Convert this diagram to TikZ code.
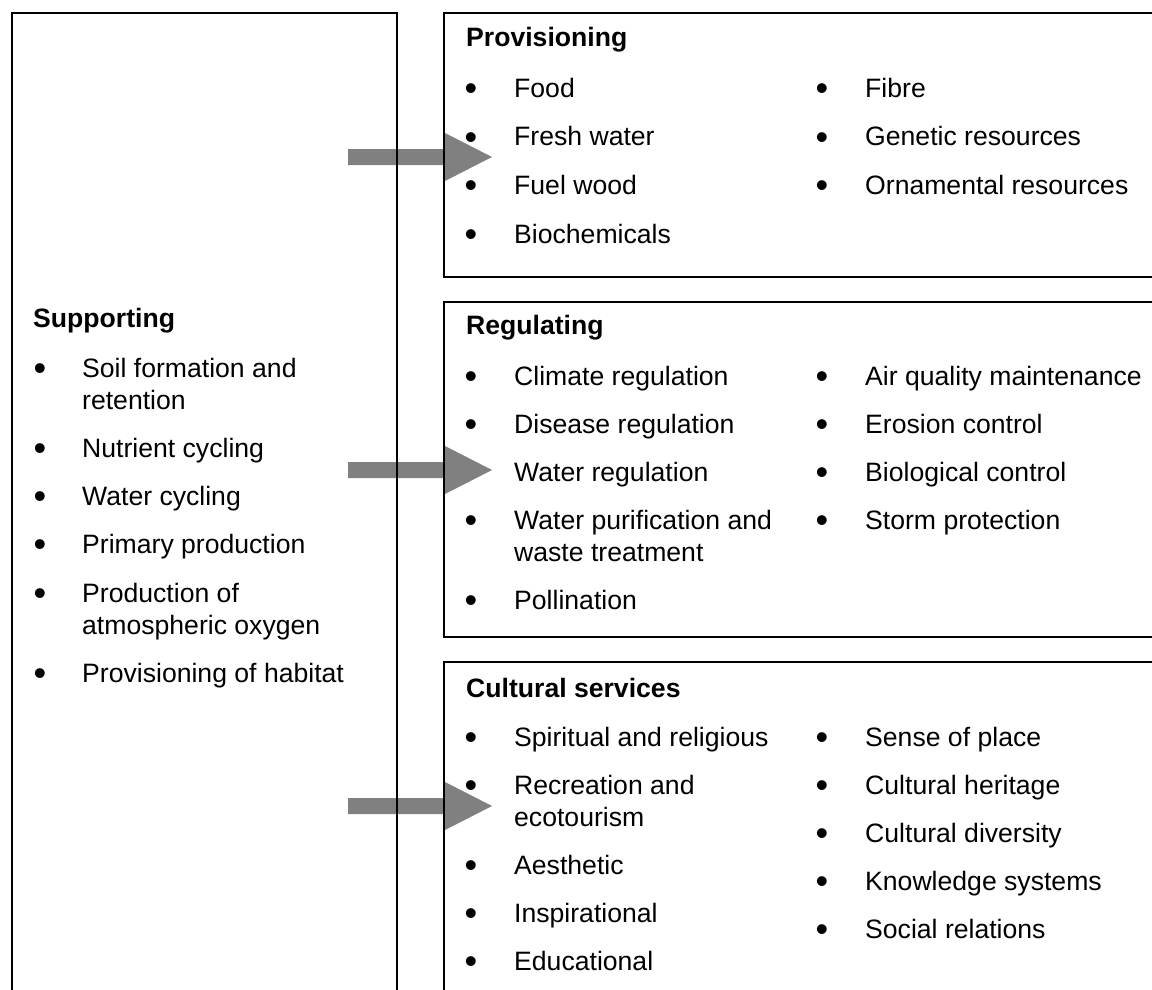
\documentclass[tikz,border=0pt]{standalone}
\usepackage{fontspec}
\setmainfont{Liberation Sans}
\definecolor{arrowgray}{HTML}{808080}
\tikzset{
  txt/.style={anchor=base west, inner sep=0pt, font=\fontsize{26.6}{32}\selectfont},
  hdr/.style={txt, font=\fontsize{26.6}{32}\selectfont\bfseries},
  bul/.style={anchor=base, inner sep=0pt, yshift=-3pt, font=\fontsize{36}{36}\selectfont},
  boxline/.style={line width=1.6pt},
  bigarrow/.style={fill=arrowgray}
}
\begin{document}
\begin{tikzpicture}[x=1pt, y=-1pt]
  \useasboundingbox (0,0) rectangle (1152,990);

  % Block arrows from Supporting to the three boxes
  \foreach \y [count=\i] in {157,470,806} {
    \coordinate (arrs\i) at (348,\y);
    \coordinate (arrt\i) at (492,\y);
    \fill[bigarrow] (arrs\i) ++(0,-8) -- ++(97,0) -- ++(0,-16) -- (arrt\i)
      -- ++(-47,24) -- ++(0,-16) -- ++(-97,0) -- cycle;
  }

  % Boxes (open at the page edges)
  \draw[boxline] (12,990) -- (12,13) -- (397,13) -- (397,990); % Supporting
  \draw[boxline] (1152,13) -- (444,13) -- (444,277) -- (1152,277); % Provisioning
  \draw[boxline] (1152,302) -- (444,302) -- (444,637) -- (1152,637); % Regulating
  \draw[boxline] (1152,662) -- (444,662) -- (444,990); % Cultural services

  % Supporting
  \node[hdr] (suphead) at (33,327) {Supporting};
  \foreach \y in {377,457,505,553,602,682}
    \node[bul] (supb\y) at (40,\y) {•};
  \foreach \y/\t in {377/Soil formation and, 409/retention, 457/Nutrient cycling,
                     505/Water cycling, 553/Primary production, 602/Production of,
                     634/atmospheric oxygen, 682/Provisioning of habitat}
    \node[txt] (supt\y) at (82,\y) {\t};

  % Provisioning
  \node[hdr] (provhead) at (466,47) {Provisioning};
  \foreach \y/\t in {97/Food, 146/Fresh water, 194/Fuel wood, 243/Biochemicals} {
    \node[bul] (provb\y) at (471,\y) {•};
    \node[txt] (provt\y) at (514,\y) {\t};
  }
  \foreach \y/\t in {97/Fibre, 146/Genetic resources, 194/Ornamental resources} {
    \node[bul] (provbb\y) at (822,\y) {•};
    \node[txt] (provtt\y) at (865,\y) {\t};
  }

  % Regulating
  \node[hdr] (reghead) at (466,334) {Regulating};
  \foreach \y in {385,433,529,609}
    \node[bul] (regb\y) at (471,\y) {•};
  \foreach \y/\t in {385/Climate regulation, 433/Disease regulation, 481/Water regulation,
                     529/Water purification and, 561/waste treatment, 609/Pollination}
    \node[txt] (regt\y) at (514,\y) {\t};
  \foreach \y/\t in {385/Air quality maintenance, 433/Erosion control,
                     481/Biological control, 529/Storm protection} {
    \node[bul] (regbb\y) at (822,\y) {•};
    \node[txt] (regtt\y) at (865,\y) {\t};
  }

  % Cultural services
  \node[hdr] (culthead) at (466,697) {Cultural services};
  \foreach \y in {746,794,874,922,970}
    \node[bul] (cultb\y) at (471,\y) {•};
  \foreach \y/\t in {746/Spiritual and religious, 794/Recreation and, 826/ecotourism,
                     874/Aesthetic, 922/Inspirational, 970/Educational}
    \node[txt] (cultt\y) at (514,\y) {\t};
  \foreach \y/\t in {746/Sense of place, 794/Cultural heritage, 842/Cultural diversity,
                     890/Knowledge systems, 938/Social relations} {
    \node[bul] (cultbb\y) at (822,\y) {•};
    \node[txt] (culttt\y) at (865,\y) {\t};
  }
\end{tikzpicture}
\end{document}
